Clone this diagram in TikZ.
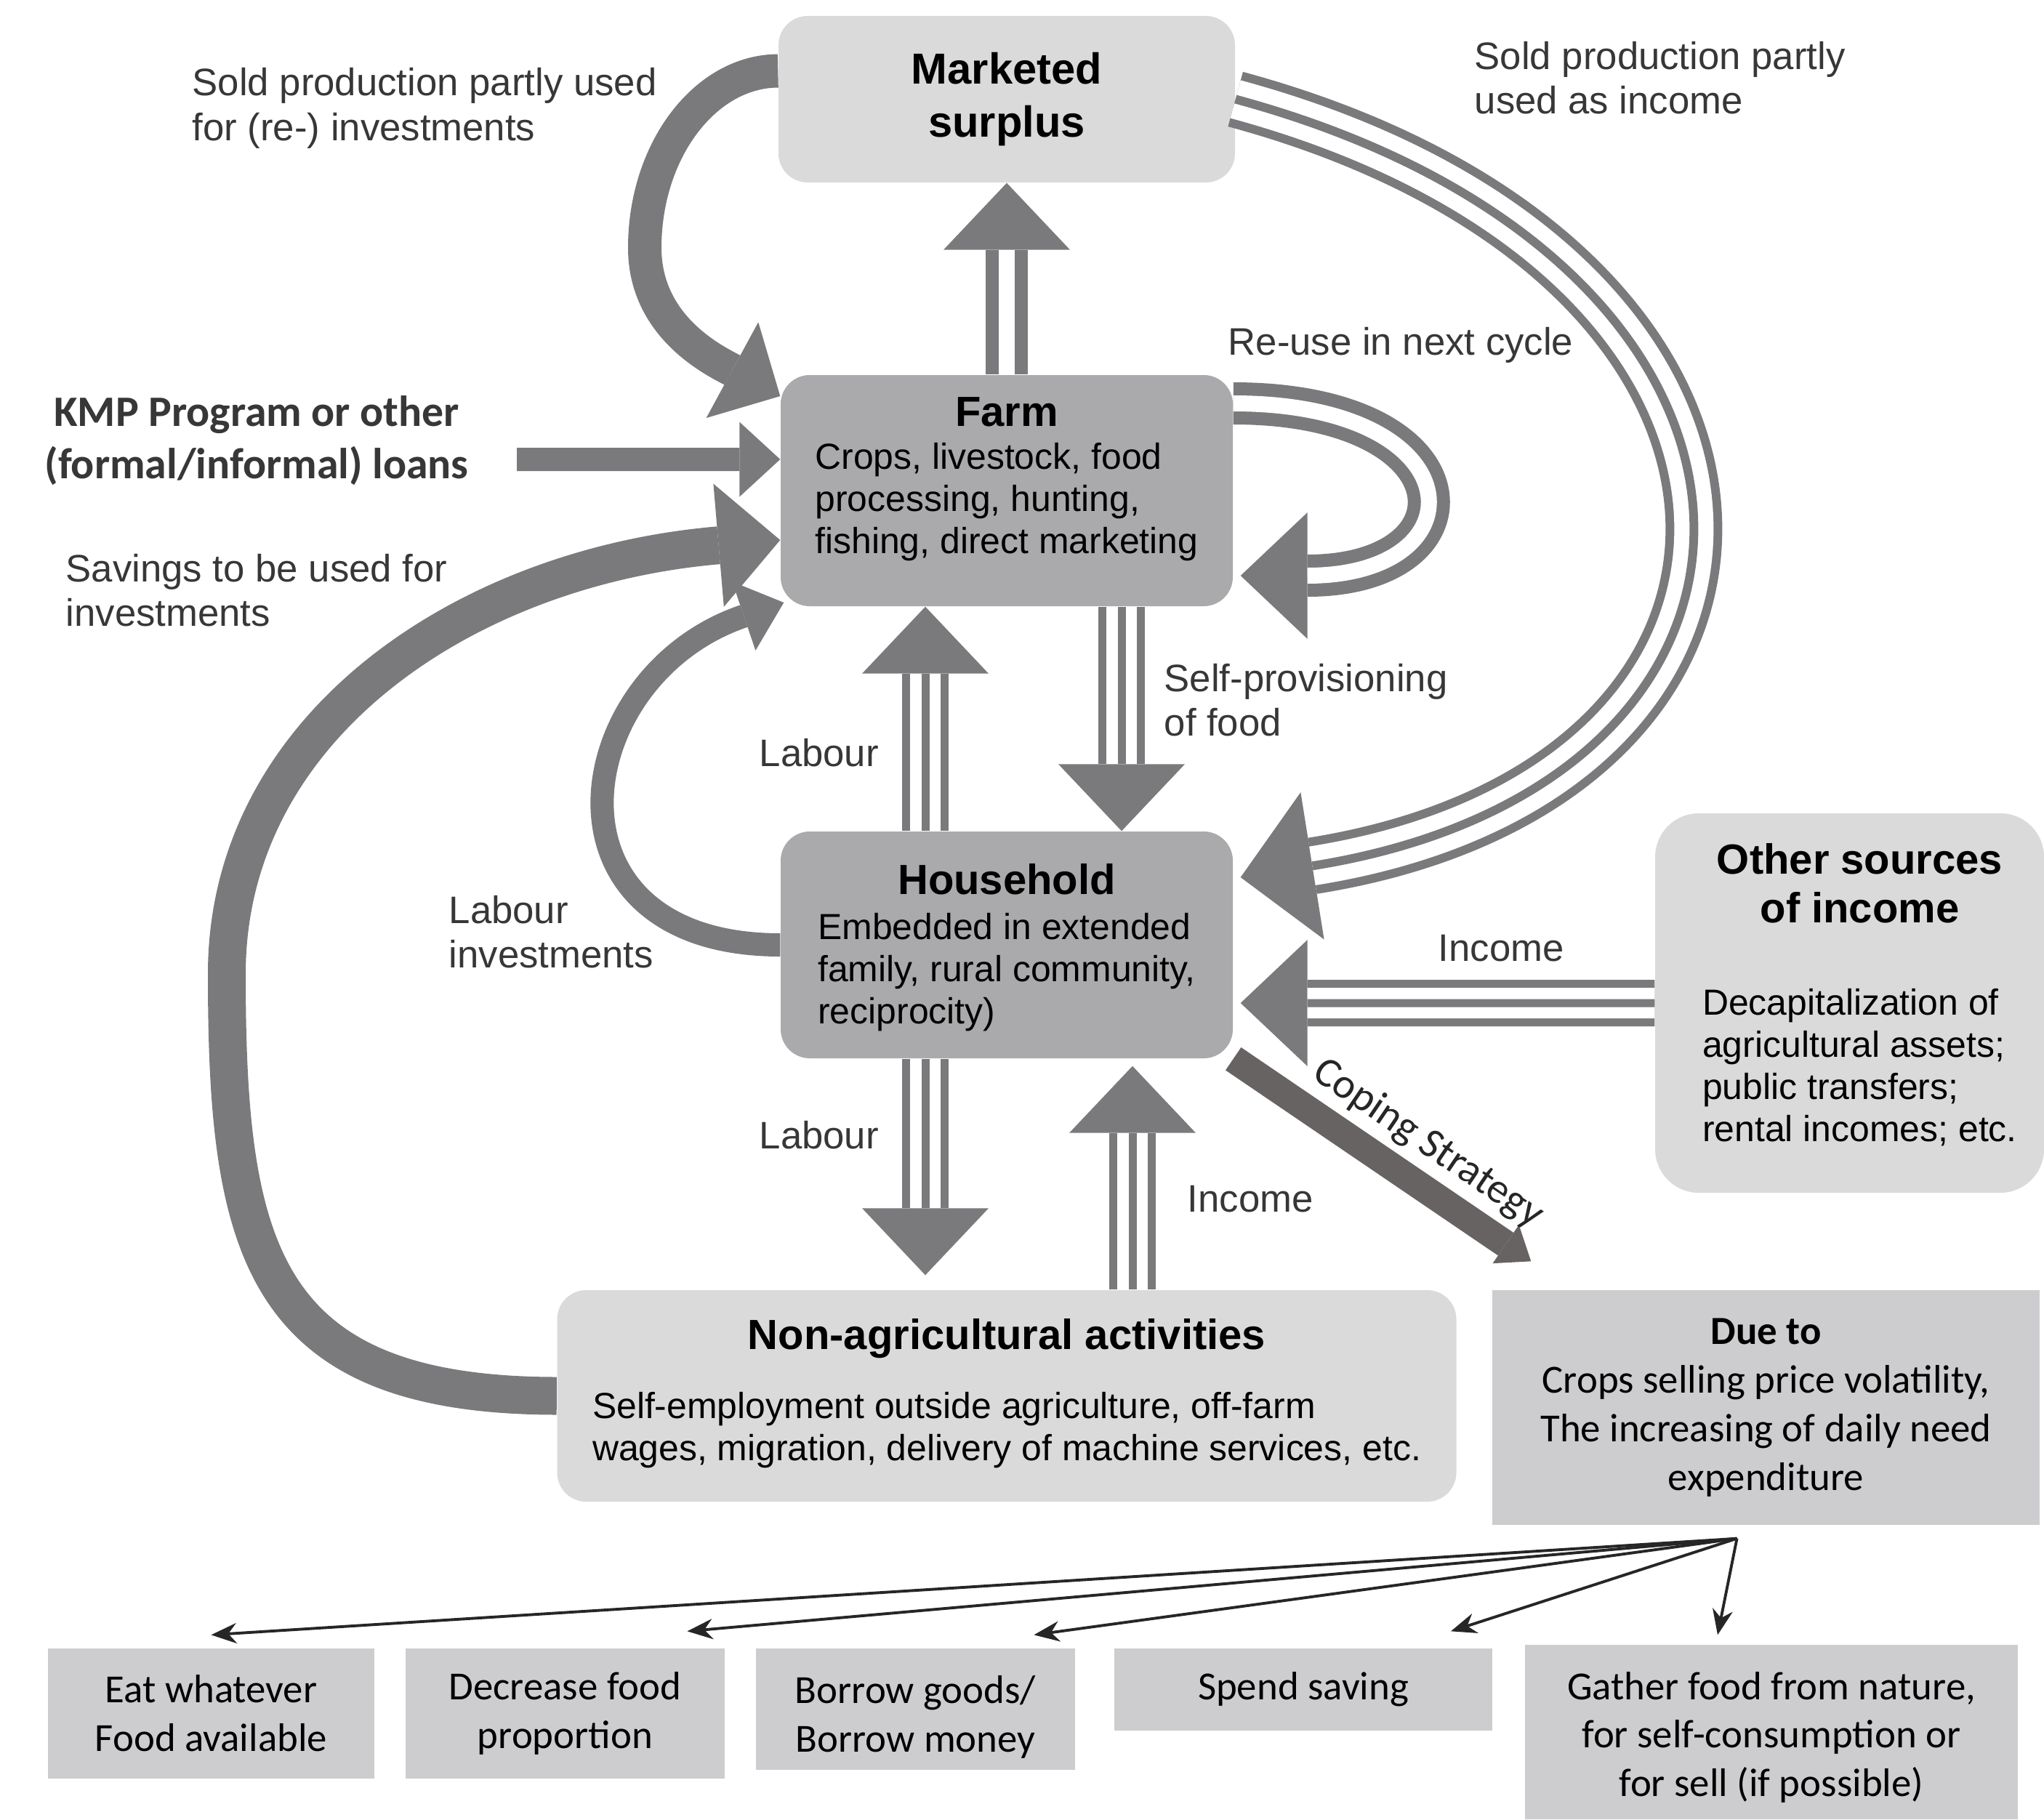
\documentclass[tikz,border=0pt]{standalone}
\usepackage{fontspec}
\setmainfont{Liberation Sans}
\newfontfamily\calib{Carlito}
\usetikzlibrary{arrows.meta}

\definecolor{flowgray}{RGB}{122,122,124}
\definecolor{copegray}{RGB}{104,99,99}
\definecolor{boxlight}{RGB}{218,218,218}
\definecolor{boxdark}{RGB}{170,170,172}
\definecolor{duegray}{RGB}{205,205,207}
\definecolor{txt}{RGB}{55,55,55}

\newcommand{\boxtitle}[1]{{\fontsize{16.5}{19.5}\selectfont\bfseries #1}}
\newcommand{\boxtext}{\fontsize{14.2}{16.5}\selectfont}

\tikzset{
	box/.style={rounded corners=4mm, inner sep=0pt, align=center, text=black},
	lightbox/.style={box, fill=boxlight},
	darkbox/.style={box, fill=boxdark},
	flatbox/.style={fill=duegray, inner sep=0pt, align=center, text=black, font=\calib\fontsize{15.6}{19}\selectfont},
	lbl/.style={inner sep=0pt, align=left, text=txt, font=\fontsize{15}{17.5}\selectfont},
	tri/.style={draw=flowgray, line width=6.4mm, -{Triangle[width=17.4mm,length=9.2mm,line width=0pt]},
		postaction={draw=white, -, line width=4.2mm, shorten >=9.2mm},
		postaction={draw=flowgray, -, line width=1.1mm, shorten >=9.2mm}},
	tribig/.style={draw=flowgray, line width=7.8mm, -{Triangle[width=20.5mm,length=10mm,line width=0pt]},
		postaction={draw=white, -, line width=5.4mm, shorten >=10mm},
		postaction={draw=flowgray, -, line width=1.2mm, shorten >=10mm}},
	dbl/.style={draw=flowgray, line width=5.8mm, -{Triangle[width=17.4mm,length=9.2mm,line width=0pt]},
		postaction={draw=white, -, line width=2.2mm, shorten >=9.2mm}},
	fanline/.style={draw=black!85, line width=1.1pt, -{Stealth[length=3.5mm,width=2.8mm]}},
}

\begin{document}
\begin{tikzpicture}
	\fill[white] (0,0) rectangle (28.12,-25.03);
	\useasboundingbox (0,0) rectangle (28.12,-25.03);

	% main boxes
	\node[lightbox, minimum width=6.28cm, minimum height=2.29cm, font=\fontsize{17}{21}\selectfont\bfseries] (mkt) at (13.85,-1.365) {Marketed\\surplus};
	\node[darkbox, minimum width=6.22cm, minimum height=3.18cm] (farm) at (13.85,-6.75)
		{\boxtitle{Farm}\\[5pt] \boxtext\begin{tabular}[t]{@{}l@{}}Crops, livestock, food\\processing, hunting,\\fishing, direct marketing\rule[-12pt]{0pt}{12pt}\end{tabular}};
	\node[darkbox, minimum width=6.22cm, minimum height=3.12cm] (hh) at (13.85,-13.0)
		{\rule{0pt}{16pt}\boxtitle{Household}\\[5.5pt] \boxtext\begin{tabular}[t]{@{}l@{}}Embedded in extended\\family, rural community,\\reciprocity)\end{tabular}};
	\node[lightbox, rounded corners=6mm, minimum width=5.35cm, minimum height=5.22cm] (other) at (25.445,-13.8)
		{\hspace*{2.8mm}\boxtitle{Other sources}\\[5.9pt]\hspace*{2.8mm}\boxtitle{of income}\\[8.5mm] \boxtext\begin{tabular}[t]{@{\hspace{2.8mm}}l@{}}Decapitalization of\\agricultural assets;\\public transfers;\\rental incomes; etc.\rule[-8pt]{0pt}{8pt}\end{tabular}};
	\node[lightbox, minimum width=12.37cm, minimum height=2.91cm] (nonag) at (13.85,-19.205)
		{\boxtitle{Non-agricultural activities}\\[3.8mm] \boxtext\begin{tabular}[t]{@{}l@{}}Self-employment outside agriculture, off-farm\\wages, migration, delivery of machine services, etc.\end{tabular}};

	% coping boxes
	\node[flatbox, minimum width=7.53cm, minimum height=3.23cm] (due) at (24.295,-19.365)
		{\textbf{Due to}\\Crops selling price volatility,\\The increasing of daily need\\expenditure};
	\node[flatbox, minimum width=4.49cm, minimum height=1.79cm] (eat) at (2.905,-23.575) {Eat whatever\\Food available};
	\node[flatbox, minimum width=4.39cm, minimum height=1.79cm] (dec) at (7.775,-23.575) {Decrease food\\proportion};
	\node[flatbox, minimum width=4.39cm, minimum height=1.67cm] (bor) at (12.595,-23.515) {\rule{0pt}{17pt}Borrow goods/\\Borrow money};
	\node[flatbox, minimum width=5.2cm, minimum height=1.13cm] (spend) at (17.93,-23.245) {Spend saving};
	\node[flatbox, minimum width=6.78cm, minimum height=2.4cm] (gath) at (24.37,-23.83) {\rule{0pt}{15pt}Gather food from nature,\\for self-consumption or\\for sell (if possible)};

	% free labels
	\node[lbl, anchor=west] (soldinv) at (2.64,-1.49) {Sold production partly used\\for (re-) investments};
	\node[lbl, anchor=west] (soldinc) at (20.28,-1.07) {Sold production partly\\used as income};
	\node[lbl, anchor=west] (reuse) at (16.89,-4.75) {Re-use in next cycle};
	\node[lbl, align=center, font=\calib\bfseries\fontsize{17}{20.5}\selectfont] (kmp) at (3.53,-6.06) {KMP Program or other\\(formal/informal) loans};
	\node[lbl, anchor=west] (savings) at (0.90,-8.12) {Savings to be used for\\investments};
	\node[lbl, anchor=west] (labup) at (10.44,-10.36) {Labour};
	\node[lbl, anchor=west] (selfprov) at (16.01,-9.63) {Self-provisioning\\of food};
	\node[lbl, anchor=west] (labinv) at (6.17,-12.82) {Labour\\investments};
	\node[lbl, anchor=west] (incright) at (19.78,-13.05) {Income};
	\node[lbl, anchor=west] (labdown) at (10.44,-15.62) {Labour};
	\node[lbl, anchor=west] (incup) at (16.33,-16.50) {Income};

	% flows between the boxes
	\draw[dbl] (farm.north) -- (mkt.south);
	\draw[tri] ([xshift=15.8mm]farm.south) -- ([xshift=15.8mm]hh.north);
	\draw[tri] ([xshift=-11.2mm]hh.north) -- ([xshift=-11.2mm]farm.south);
	\draw[tri] ([xshift=-11.2mm]hh.south) -- ([xshift=-11.2mm,yshift=2mm]nonag.north);
	\draw[tri] ([xshift=17.3mm]nonag.north) -- ([xshift=17.3mm,yshift=-1mm]hh.south);
	\draw[tri] (other.west) -- ([xshift=1mm,yshift=-8mm]hh.east);
	\draw[tribig] (mkt.east) .. controls (25.21,-3.59) and (25.23,-10.77) .. ([xshift=1mm,yshift=9.3mm]hh.east);
	\draw[dbl] ([yshift=12mm]farm.east) to[out=0,in=0,looseness=3.6] ([xshift=1mm,yshift=-11.7mm]farm.east);

	% investments into the farm
	\draw[flowgray, line width=4.6mm, -{Triangle[width=15mm,length=7.5mm,line width=0pt]}]
		([yshift=3.9mm]mkt.west) .. controls (9.70,-0.98) and (8.87,-2.07) .. (8.87,-3.41)
		.. controls (8.87,-4.51) and (9.85,-4.97) .. ([yshift=13mm]farm.west);
	\coordinate (kmpout) at (7.11,-6.32);
	\draw[flowgray, line width=3.2mm, -{Triangle[width=10.3mm,length=5.6mm,line width=0pt]}]
		(kmpout) -- ([yshift=4.3mm]farm.west);
	\draw[flowgray, line width=5.2mm, -{Triangle[width=17mm,length=8.5mm,line width=0pt]}]
		(nonag.west) .. controls (3.6,-19.2) and (3.12,-17.2) .. (3.12,-13.4)
		.. controls (3.12,-10.0) and (6.4,-7.8) .. ([yshift=-6.8mm]farm.west);
	\draw[flowgray, line width=3.2mm, -{Triangle[width=10mm,length=5.8mm,line width=0pt]}]
		(hh.west) .. controls (7.3,-13.0) and (7.8,-9.3) .. ([xshift=0.5mm,yshift=-15.4mm]farm.west);

	% coping strategy
	\draw[copegray, line width=3.8mm, -{Triangle[width=6.4mm,length=4.2mm,line width=0pt]}]
		(hh.south east) -- ([xshift=5.4mm,yshift=3.9mm]due.north west)
		node[pos=0.58, sloped, above=1mm, inner sep=0pt, text=black!85, font=\calib\fontsize{16.5}{19}\selectfont] (copetxt) {Coping Strategy};

	\coordinate (fan) at ([xshift=-4mm,yshift=-1.8mm]due.south);
	\draw[fanline] (fan) -- ([yshift=1.8mm]eat.north);
	\draw[fanline] (fan) -- ([xshift=16.8mm,yshift=2.3mm]dec.north);
	\draw[fanline] (fan) -- ([xshift=16.3mm,yshift=1.8mm]bor.north);
	\draw[fanline] (fan) -- ([xshift=20.3mm,yshift=2.3mm]spend.north);
	\draw[fanline] (fan) -- ([xshift=-7.4mm,yshift=1.3mm]gath.north);
\end{tikzpicture}
\end{document}
